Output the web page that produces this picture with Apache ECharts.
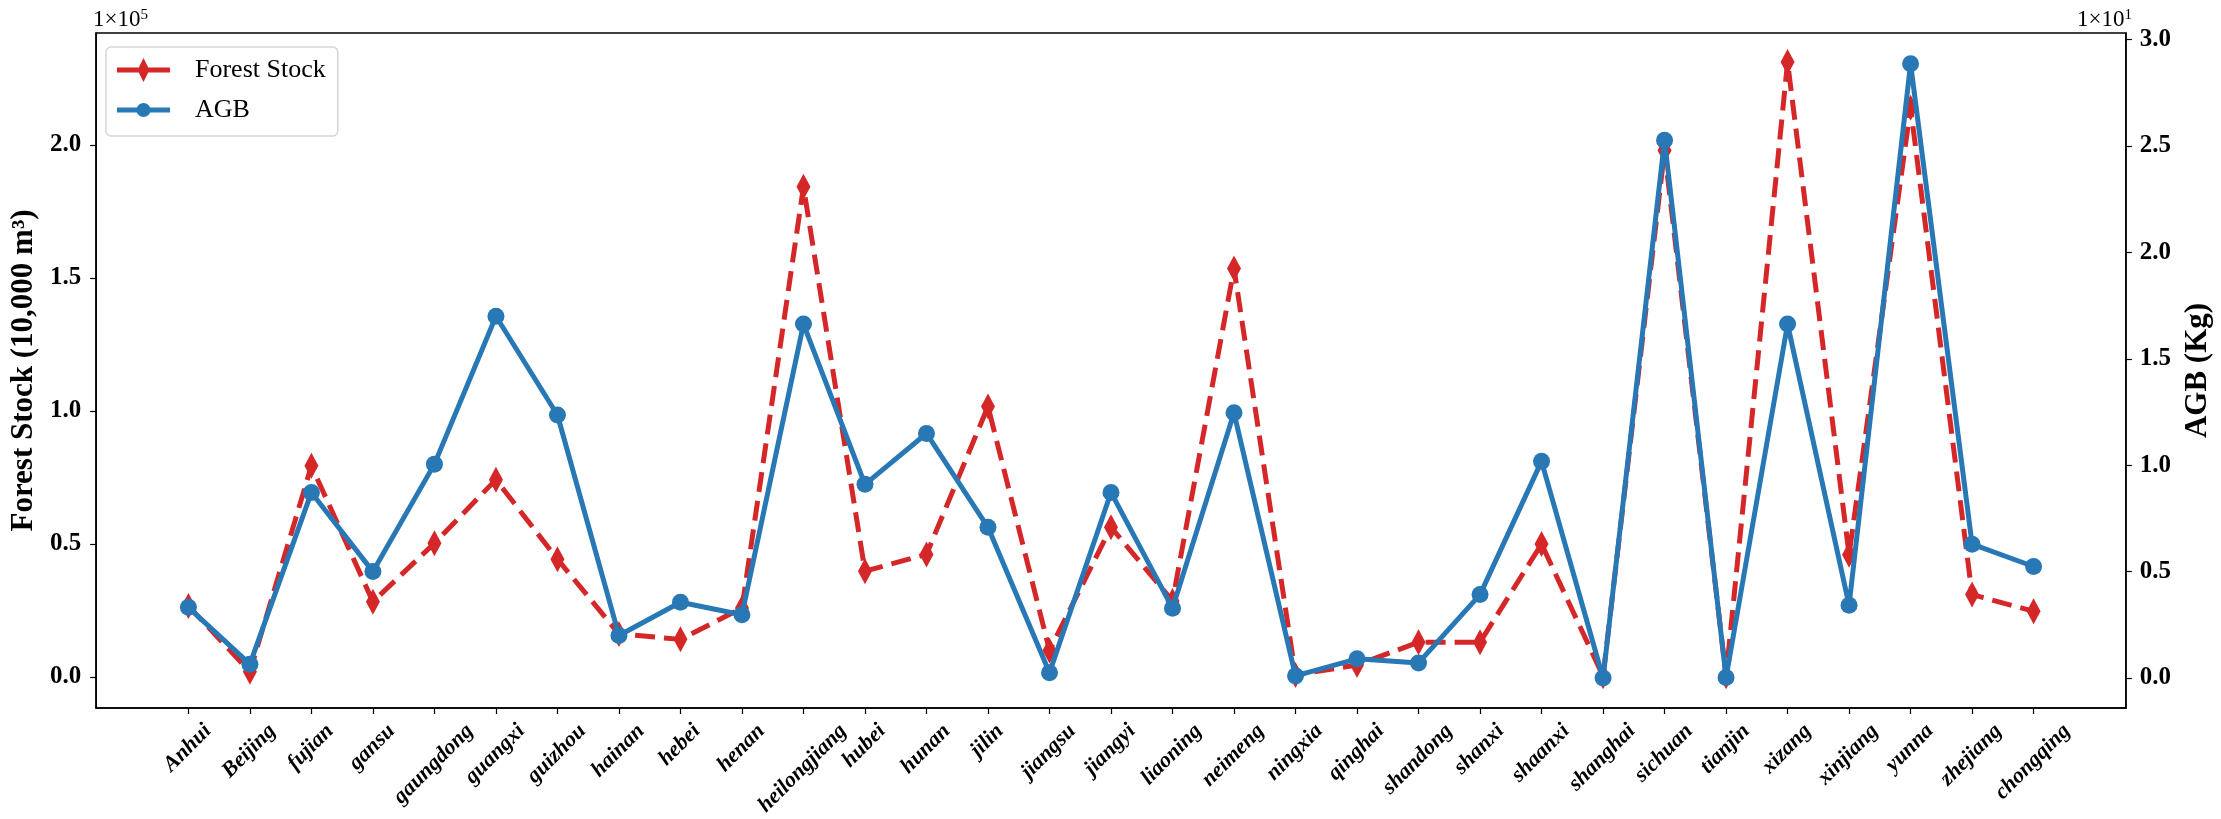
<!DOCTYPE html>
<html><head><meta charset="utf-8">
<script src="https://cdn.jsdelivr.net/npm/echarts@6/dist/echarts.min.js"></script>
<style>html,body{margin:0;padding:0;background:#fff}#c{width:2221px;height:819px}</style>
</head><body><div id="c"></div>
<script>
// ---- data ----
const categories = ['Anhui','Beijing','fujian','gansu','gaungdong','guangxi','guizhou','hainan','hebei','henan','heilongjiang','hubei','hunan','jilin','jiangsu','jiangyi','liaoning','neimeng','ningxia','qinghai','shandong','shanxi','shaanxi','shanghai','sichuan','tianjin','xizang','xinjiang','yunna','zhejiang','chongqing'];
// Forest Stock (10,000 m3)
const forestStock = [26700, 2000, 79400, 28300, 50300, 74200, 44300, 16200, 14150, 25900, 184300, 39800, 46100, 101700, 10000, 56300, 28600, 153600, 800, 4500, 13100, 13100, 50000, 300, 197900, 300, 231200, 46000, 214000, 31000, 24700];
// AGB (Kg)
const agb = [3.32, 0.65, 8.72, 5.0, 10.05, 17.0, 12.36, 2.0, 3.56, 2.97, 16.63, 9.10, 11.49, 7.08, 0.25, 8.72, 3.28, 12.46, 0.1, 0.9, 0.71, 3.92, 10.18, 0.0, 25.27, 0.02, 16.63, 3.42, 28.87, 6.29, 5.24];
const leftTicks = [0, 50000, 100000, 150000, 200000];
const rightTicks = [0, 5, 10, 15, 20, 25, 30];
const leftScale = 1e5, rightScale = 10;

// ---- styling ----
const SERIF = '"Liberation Serif", "Times New Roman", serif';
const RED = '#d62728', BLUE = '#2878b5';
const XLBL = 22;
const GRID = {left: 93, right: 89, top: 33, bottom: 111};
const xIdx = categories.map((c, i) => i);
const axisLineStyle = {color: '#000', width: 1.5};
const tickStyle = {color: '#000', width: 1.2};

const chart = echarts.init(document.getElementById('c'), null, {renderer: 'canvas'});
chart.setOption({
  animation: false,
  backgroundColor: '#fff',
  grid: Object.assign({show: true, borderColor: '#000', borderWidth: 1.5, backgroundColor: 'transparent'}, GRID),
  legend: {
    left: 106, top: 47, orient: 'vertical',
    padding: [10, 12, 13, 11],
    itemWidth: 53, itemHeight: 24, itemGap: 14,
    borderColor: 'rgba(204,204,204,0.8)', borderWidth: 1.5, borderRadius: 5,
    backgroundColor: 'rgba(255,255,255,0.8)',
    textStyle: {fontFamily: SERIF, fontSize: 26, color: '#000', padding: [0, 0, 0, 20]},
    itemStyle: {borderWidth: 0},
    data: [
      {name: 'Forest Stock', icon: 'path://M0,9.5 L53,9.5 L53,14.5 L0,14.5 Z M26.5,0 L32.5,12 L26.5,24 L20.5,12 Z'},
      {name: 'AGB', icon: 'path://M0,9.5 L53,9.5 L53,14.5 L0,14.5 Z M19.5,12 A7,7 0 1,1 33.5,12 A7,7 0 1,1 19.5,12 Z M26.5,0 L26.51,0 Z M26.5,24 L26.51,24 Z'}
    ]
  },
  xAxis: {
    type: 'value', min: -1.5, max: 31.5,
    splitLine: {show: false},
    axisLine: {show: true, onZero: false, lineStyle: axisLineStyle},
    axisTick: {show: true, length: 6, lineStyle: tickStyle, customValues: xIdx},
    axisLabel: {show: false}
  },
  yAxis: [{
    type: 'value', position: 'left', min: -11650, max: 242100,
    name: 'Forest Stock (10,000 m³)', nameLocation: 'middle', nameGap: 57, nameRotate: 90,
    nameTextStyle: {fontFamily: SERIF, fontWeight: 'bold', fontSize: 31, color: '#000'},
    splitLine: {show: false},
    axisLine: {show: true, onZero: false, lineStyle: axisLineStyle},
    axisTick: {show: true, length: 6, lineStyle: tickStyle, customValues: leftTicks},
    axisLabel: {customValues: leftTicks, margin: 15, fontFamily: SERIF, fontWeight: 'bold', fontSize: 25, color: '#000',
      formatter: v => (v / leftScale).toFixed(1)}
  }, {
    type: 'value', position: 'right', min: -1.41, max: 30.31,
    name: 'AGB (Kg)', nameLocation: 'middle', nameGap: 52, nameRotate: 90,
    nameTextStyle: {fontFamily: SERIF, fontWeight: 'bold', fontSize: 31, color: '#000'},
    splitLine: {show: false},
    axisLine: {show: true, onZero: false, lineStyle: axisLineStyle},
    axisTick: {show: true, length: 6, lineStyle: tickStyle, customValues: rightTicks},
    axisLabel: {customValues: rightTicks, margin: 14, fontFamily: SERIF, fontWeight: 'bold', fontSize: 25, color: '#000',
      formatter: v => (v / rightScale).toFixed(1)}
  }],
  series: [{
    name: 'Forest Stock', type: 'line', yAxisIndex: 0,
    data: forestStock.map((v, i) => [i, v]),
    symbol: 'diamond', symbolSize: [14, 26], showAllSymbol: true,
    itemStyle: {color: RED, borderWidth: 0},
    lineStyle: {color: RED, width: 5, type: [20, 9]},
    z: 2
  }, {
    name: 'AGB', type: 'line', yAxisIndex: 1,
    data: agb.map((v, i) => [i, v]),
    symbol: 'circle', symbolSize: 17, showAllSymbol: true,
    itemStyle: {color: BLUE, borderWidth: 0},
    lineStyle: {color: BLUE, width: 5},
    z: 3
  }]
});

// ---- rotated category labels (matplotlib-style: rotated 45 deg, bbox centred on the tick) ----
const ctx = document.createElement('canvas').getContext('2d');
const xFont = 'italic bold ' + XLBL + 'px "Liberation Serif"';
ctx.font = xFont;
const c45 = Math.SQRT1_2;
const axisY = 819 - GRID.bottom;
const PAD = 12;
const graphics = [
  {type: 'text', left: 93, top: 8, z: 10, style: {text: '{a|1×10}{s|5}', rich: {
    a: {fontFamily: SERIF, fontSize: 23, fill: '#000', verticalAlign: 'bottom'},
    s: {fontFamily: SERIF, fontSize: 15, fill: '#000', verticalAlign: 'top'}}}},
  {type: 'text', right: 89, top: 8, z: 10, style: {text: '{a|1×10}{s|1}', rich: {
    a: {fontFamily: SERIF, fontSize: 23, fill: '#000', verticalAlign: 'bottom'},
    s: {fontFamily: SERIF, fontSize: 15, fill: '#000', verticalAlign: 'top'}}}}
];
categories.forEach((c, i) => {
  const tickX = chart.convertToPixel({xAxisIndex: 0}, i);
  const L = ctx.measureText(c).width, f = XLBL * 1.1;
  graphics.push({
    type: 'text', z: 10,
    x: tickX + (L - f) * c45 / 2, y: axisY + PAD,
    rotation: Math.PI / 4,
    style: {text: c, font: xFont, fill: '#000', align: 'right', verticalAlign: 'top'}
  });
});
chart.setOption({graphic: graphics});
</script>
</body></html>
